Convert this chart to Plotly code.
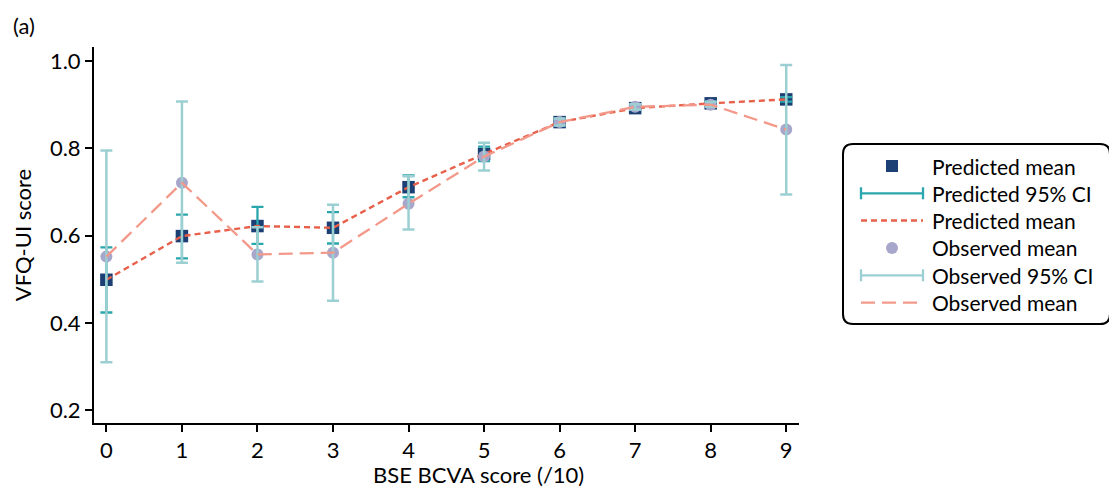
import plotly.graph_objects as go

# ---- data ----
bcva = [0, 1, 2, 3, 4, 5, 6, 7, 8, 9]
pred_mean = [0.499, 0.599, 0.622, 0.618, 0.711, 0.787, 0.860, 0.892, 0.903, 0.912]
pred_lo   = [0.424, 0.548, 0.581, 0.582, 0.688, 0.771, 0.855, 0.888, 0.899, 0.907]
pred_hi   = [0.573, 0.648, 0.666, 0.654, 0.738, 0.804, 0.866, 0.897, 0.908, 0.917]
obs_mean  = [0.552, 0.721, 0.557, 0.561, 0.673, 0.781, 0.860, 0.895, 0.900, 0.843]
obs_lo    = [0.310, 0.538, 0.495, 0.451, 0.614, 0.749, 0.852, 0.889, 0.895, 0.694]
obs_hi    = [0.795, 0.907, 0.619, 0.671, 0.736, 0.813, 0.868, 0.901, 0.906, 0.991]
x_ticks = [0, 1, 2, 3, 4, 5, 6, 7, 8, 9]
y_ticks = [0.2, 0.4, 0.6, 0.8, 1.0]
x_title = "BSE BCVA score (/10)"
y_title = "VFQ-UI score"
legend_labels = ["Predicted mean", "Predicted 95% CI", "Predicted mean",
                 "Observed mean", "Observed 95% CI", "Observed mean"]

C_SQ = "#1c3f74"
C_PCI = "#2aa6ad"
C_PLINE = "#e8604a"
C_CIRC = "#a7a6cb"
C_OCI = "#9ccfd2"
C_OLINE = "#f3998a"

OFF = 8                      # page body margin
W, H = 1117 - OFF, 489 - OFF
# plot area in page pixels
PL, PR, PT, PB = 94, 799, 47, 423
L, R, T, B = PL - OFF, PR - OFF, PT - OFF, PB - OFF
FONT = "Lato"

def pxx(px):                 # page pixel -> paper x
    return (px - OFF - L) / (R - L)

def pxy(py):                 # page pixel -> paper y
    return (B - (py - OFF)) / (B - T)

fig = go.Figure()
fig.add_trace(go.Scatter(x=bcva, y=pred_mean, mode="markers",
                         marker=dict(symbol="square", size=12.5, color=C_SQ),
                         showlegend=False, cliponaxis=False))
fig.add_trace(go.Scatter(x=bcva, y=pred_mean, mode="markers",
                         marker=dict(size=1, color="rgba(0,0,0,0)"),
                         error_y=dict(type="data", symmetric=False,
                                      array=[h - m for h, m in zip(pred_hi, pred_mean)],
                                      arrayminus=[m - l for m, l in zip(pred_mean, pred_lo)],
                                      color=C_PCI, thickness=2.3, width=6),
                         showlegend=False, cliponaxis=False))
fig.add_trace(go.Scatter(x=bcva, y=pred_mean, mode="lines",
                         line=dict(color=C_PLINE, width=2.4, dash="6px,4px"),
                         showlegend=False))
fig.add_trace(go.Scatter(x=bcva, y=obs_mean, mode="markers",
                         marker=dict(symbol="circle", size=12, color=C_CIRC),
                         showlegend=False, cliponaxis=False))
fig.add_trace(go.Scatter(x=bcva, y=obs_mean, mode="markers",
                         marker=dict(size=1, color="rgba(0,0,0,0)"),
                         error_y=dict(type="data", symmetric=False,
                                      array=[h - m for h, m in zip(obs_hi, obs_mean)],
                                      arrayminus=[m - l for m, l in zip(obs_mean, obs_lo)],
                                      color=C_OCI, thickness=2.5, width=6),
                         showlegend=False, cliponaxis=False))
fig.add_trace(go.Scatter(x=bcva, y=obs_mean, mode="lines",
                         line=dict(color=C_OLINE, width=2.3, dash="14px,7px"),
                         showlegend=False))

shapes = []
annotations = []

# legend box (rounded), page pixels
bx0, by0, bx1, by1, rr = 843, 144, 1110, 324, 10
def P(px, py):
    return f"{pxx(px):.5f},{pxy(py):.5f}"
path = (f"M {P(bx0 + rr, by0)} L {P(bx1 - rr, by0)} Q {P(bx1, by0)} {P(bx1, by0 + rr)} "
        f"L {P(bx1, by1 - rr)} Q {P(bx1, by1)} {P(bx1 - rr, by1)} "
        f"L {P(bx0 + rr, by1)} Q {P(bx0, by1)} {P(bx0, by1 - rr)} "
        f"L {P(bx0, by0 + rr)} Q {P(bx0, by0)} {P(bx0 + rr, by0)} Z")
shapes.append(dict(type="path", xref="paper", yref="paper", path=path,
                   line=dict(color="black", width=2), fillcolor="white"))

row_y = [166, 193.3, 220.5, 248, 275.3, 302.7]
sx0, sx1, scx = 861, 923, 892
for i, (lab, ry) in enumerate(zip(legend_labels, row_y)):
    annotations.append(dict(xref="paper", yref="paper", x=pxx(930), y=pxy(ry),
                            xanchor="left", yanchor="middle", text=lab, showarrow=False,
                            font=dict(family=FONT, size=21, color="black")))
    if i == 0:
        shapes.append(dict(type="rect", xref="paper", yref="paper",
                           x0=pxx(scx - 6), x1=pxx(scx + 6), y0=pxy(ry + 6), y1=pxy(ry - 6),
                           fillcolor=C_SQ, line=dict(width=0)))
    elif i == 3:
        shapes.append(dict(type="circle", xref="paper", yref="paper",
                           x0=pxx(scx - 6), x1=pxx(scx + 6), y0=pxy(ry + 6), y1=pxy(ry - 6),
                           fillcolor=C_CIRC, line=dict(width=0)))
    elif i in (1, 4):
        col = C_PCI if i == 1 else C_OCI
        shapes.append(dict(type="line", xref="paper", yref="paper",
                           x0=pxx(sx0), x1=pxx(sx1), y0=pxy(ry), y1=pxy(ry),
                           line=dict(color=col, width=2.3)))
        for sx in (sx0, sx1):
            shapes.append(dict(type="line", xref="paper", yref="paper",
                               x0=pxx(sx), x1=pxx(sx), y0=pxy(ry - 6), y1=pxy(ry + 6),
                               line=dict(color=col, width=2.3)))
    else:
        col = C_PLINE if i == 2 else C_OLINE
        dash = "6px,4px" if i == 2 else "14px,7px"
        shapes.append(dict(type="line", xref="paper", yref="paper",
                           x0=pxx(sx0), x1=pxx(sx1), y0=pxy(ry), y1=pxy(ry),
                           line=dict(color=col, width=2.3, dash=dash)))

annotations.append(dict(xref="paper", yref="paper", x=pxx(11), y=pxy(26),
                        xanchor="left", yanchor="middle", text="(a)", showarrow=False,
                        font=dict(family=FONT, size=22, color="black")))
annotations.append(dict(xref="paper", yref="paper", x=pxx(478), y=pxy(489),
                        xanchor="center", yanchor="bottom", text=x_title, showarrow=False,
                        borderpad=0,
                        font=dict(family=FONT, size=22, color="black")))

fig.update_layout(
    width=W, height=H,
    margin=dict(l=L, r=W - R, t=T, b=H - B, pad=0),
    paper_bgcolor="white", plot_bgcolor="white",
    font=dict(family=FONT, size=22, color="black"),
    shapes=shapes, annotations=annotations,
    showlegend=False,
    xaxis=dict(range=[-0.164, 9.169], tickvals=x_ticks, ticktext=[str(v) for v in x_ticks],
               showgrid=False, zeroline=False, showline=True, linecolor="black", linewidth=2,
               ticks="outside", ticklen=7, tickwidth=2, tickcolor="black",
               tickfont=dict(family=FONT, size=22), automargin=False),
    yaxis=dict(range=[0.171, 1.032], tickvals=y_ticks, ticktext=[f"{v:.1f}" for v in y_ticks],
               showgrid=False, zeroline=False, showline=True, linecolor="black", linewidth=2,
               ticks="outside", ticklen=7, tickwidth=2, tickcolor="black",
               tickfont=dict(family=FONT, size=22), automargin=False,
               title=dict(text=y_title, font=dict(family=FONT, size=22), standoff=12)),
)

fig.write_html("out.html")
